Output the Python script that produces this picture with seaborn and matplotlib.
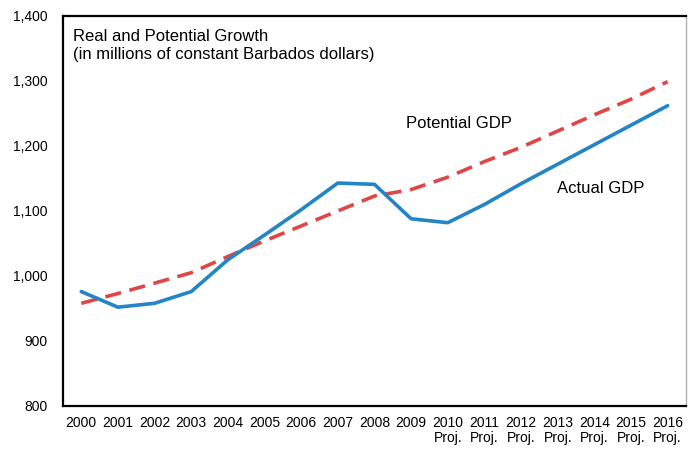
import matplotlib
matplotlib.use("Agg")
import matplotlib.pyplot as plt
import pandas as pd
import seaborn as sns

sns.set_style("white")
plt.rcParams['font.family'] = ['Liberation Sans', 'DejaVu Sans']
plt.rcParams['text.color'] = 'black'
plt.rcParams['xtick.color'] = 'black'
plt.rcParams['ytick.color'] = 'black'

years = ["2000", "2001", "2002", "2003", "2004", "2005", "2006", "2007", "2008",
         "2009", "2010", "2011", "2012", "2013", "2014", "2015", "2016"]
proj_from = "2010"
actual_gdp = [976, 952, 958, 976, 1025, 1063, 1102, 1143, 1141,
              1088, 1082, 1110, 1142, 1172, 1202, 1232, 1262]
potential_gdp = [958, 973, 989, 1005, 1030, 1054, 1077, 1100, 1123,
                 1133, 1152, 1176, 1198, 1223, 1248, 1272, 1299]
y_ticks = [800, 900, 1000, 1100, 1200, 1300, 1400]

blue = "#2384C6"
red = "#E04646"

df = pd.DataFrame({"pos": range(len(years)), "Actual GDP": actual_gdp,
                   "Potential GDP": potential_gdp})

fig = plt.figure(figsize=(6.89, 4.49), dpi=100)
ax = fig.add_axes([0.0914, 0.0958, 0.9042, 0.8686])

sns.lineplot(data=df, x="pos", y="Potential GDP", ax=ax, color=red, lw=2.6)
ax.lines[-1].set_dashes([4.5, 2.4])
ax.lines[-1].set_dash_capstyle("butt")
sns.lineplot(data=df, x="pos", y="Actual GDP", ax=ax, color=blue, lw=2.6)

ax.set_xlim(-0.5, len(years) - 0.5)
ax.set_ylim(800, 1400)
ax.set_yticks(y_ticks)
ax.set_yticklabels([f"{v:,}" for v in y_ticks])

labels = [y + "\nProj." if int(y) >= int(proj_from) else y + "\n" for y in years]
ax.set_xticks(range(len(years)))
ax.set_xticklabels(labels, fontsize=10, linespacing=1.15)
ax.set_xticks([i + 0.5 for i in range(len(years) - 1)], minor=True)
ax.tick_params(axis="x", which="major", length=0, pad=7)
ax.tick_params(axis="x", which="minor", direction="in", length=4, width=1.2)
ax.tick_params(axis="y", direction="in", length=4, width=1.2, pad=11,
               labelsize=10)
ax.set_xlabel("")
ax.set_ylabel("")

for side in ["left", "bottom", "top"]:
    ax.spines[side].set_color("black")
    ax.spines[side].set_linewidth(1.6)
ax.spines["right"].set_color("#B0B0B0")
ax.spines["right"].set_linewidth(1.0)

ax.text(0.016, 0.966, "Real and Potential Growth\n(in millions of constant Barbados dollars)",
        transform=ax.transAxes, fontsize=12, va="top", ha="left", linespacing=1.22)
ax.text(8.86, 1235, "Potential GDP", fontsize=12, ha="left", va="center")
ax.text(12.97, 1135, "Actual GDP", fontsize=12, ha="left", va="center")

fig.savefig("out.png", dpi=100)
